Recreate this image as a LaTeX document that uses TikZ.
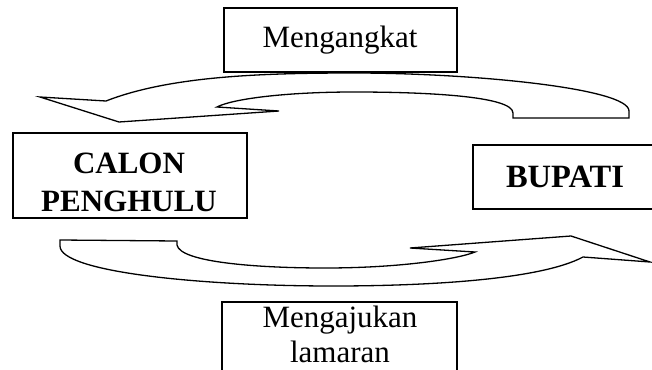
\documentclass[tikz,border=0pt]{standalone}
\usepackage{fontspec}
\setmainfont{Liberation Serif}
\begin{document}
\begin{tikzpicture}[x=1pt,y=-1pt,
  frame/.style={draw=black,line width=1.3pt,fill=white,inner sep=0pt},
  label/.style={font=\fontsize{31}{36}\selectfont,inner sep=0pt,anchor=base},
  boldlabel/.style={font=\fontsize{31}{36}\selectfont\bfseries,inner sep=0pt,anchor=base},
  curvedarrow/.style={draw=black,line width=1.3pt,fill=white,line join=miter}]
\useasboundingbox (0,0) rectangle (652,369);
\clip (0,0) rectangle (652,369);

% top curved arrow, pointing left
\draw[curvedarrow] (40,97) -- (106,101)
  .. controls (170,76) and (262,73) .. (354,73)
  .. controls (470,73) and (629,88) .. (629,111)
  -- (629,118) -- (513,118) -- (513,113)
  .. controls (513,96) and (425,92) .. (354,92)
  .. controls (285,92) and (232,99) .. (217,107)
  -- (279,111) -- (119,122) -- cycle;

% bottom curved arrow, pointing right
\draw[curvedarrow] (60,240) -- (177,241) -- (177,245)
  .. controls (180,262) and (255,268) .. (325,268)
  .. controls (400,268) and (458,259) .. (475,252)
  -- (410,248) -- (571,236) -- (650,262) -- (583,257)
  .. controls (540,280) and (425,286) .. (333,286)
  .. controls (200,286) and (60,272) .. (60,246) -- cycle;

% boxes
\node[frame,minimum width=233,minimum height=64] (top) at (340.5,40) {};
\node[label] (toptext) at (340,48) {Mengangkat};

\node[frame,minimum width=235,minimum height=78] (bottom) at (339.5,341) {};
\node[label] (bottext1) at (340,327) {Mengajukan};
\node[label] (bottext2) at (340,362) {lamaran};

\node[frame,minimum width=234,minimum height=85] (calon) at (130,175.5) {};
\begin{scope}
  \clip (calon.north west) rectangle ([yshift=-10]calon.south east);
  \node[boldlabel] (calon1) at (129,173) {CALON};
  \node[boldlabel] (calon2) at (129,211) {PENGHULU};
\end{scope}

\node[frame,minimum width=190,minimum height=64] (bupati) at (568,177) {};
\node[boldlabel,font=\fontsize{32.5}{36}\selectfont\bfseries] (bupatitext) at (565,187) {BUPATI};
\end{tikzpicture}
\end{document}
